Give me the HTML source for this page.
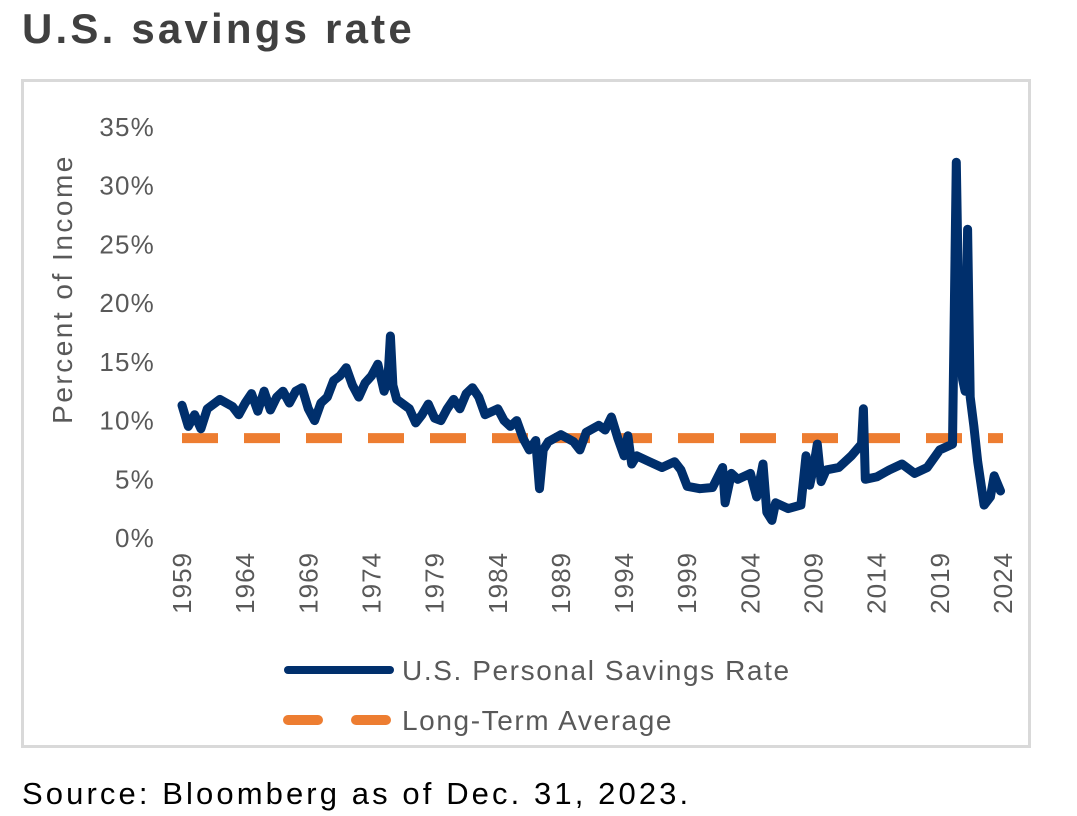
<!DOCTYPE html>
<html><head><meta charset="utf-8"><style>
body{margin:0;background:#fff;width:1077px;height:816px;overflow:hidden;font-family:"Liberation Sans",sans-serif;}
#title{position:absolute;left:22px;top:5px;font-size:42px;font-weight:bold;color:#404040;letter-spacing:3.2px;margin:0}
#box{position:absolute;left:21px;top:79px;width:1004px;height:663px;border:3px solid #d9d9d9;}
#src{position:absolute;left:22px;top:776px;font-size:31px;letter-spacing:3.1px;color:#000;}
svg text{font-family:"Liberation Sans",sans-serif;fill:#595959}
</style></head><body>
<h1 id="title">U.S. savings rate</h1>
<div id="box"></div>
<svg id="chart" width="1077" height="816" style="position:absolute;left:0;top:0"></svg>
<div id="src">Source: Bloomberg as of Dec. 31, 2023.</div>
<script>
const years=[1959,1959.5,1960,1960.5,1961,1962,1963,1963.5,1964,1964.5,1965,1965.5,1966,1966.5,1967,1967.5,1968,1968.5,1969,1969.5,1970,1970.5,1971,1971.5,1972,1972.5,1973,1973.5,1974,1974.5,1975,1975.3,1975.5,1975.7,1976,1977,1977.5,1978,1978.5,1979,1979.5,1980,1980.5,1981,1981.5,1982,1982.5,1983,1984,1984.5,1985,1985.5,1986,1986.5,1987,1987.3,1987.6,1988,1989,1990,1990.5,1991,1992,1992.5,1993,1993.5,1994,1994.3,1994.6,1995,1996,1997,1998,1998.5,1999,2000,2001,2001.8,2002,2002.5,2003,2004,2004.5,2005,2005.3,2005.7,2006,2007,2008,2008.4,2008.7,2009,2009.3,2009.6,2010,2011,2012,2012.8,2012.95,2013.1,2014,2015,2016,2017,2018,2019,2020,2020.3,2020.5,2020.8,2021,2021.2,2021.4,2021.7,2022,2022.5,2023,2023.3,2023.8];
const rates=[11.3,9.5,10.5,9.3,11.0,11.8,11.2,10.5,11.5,12.3,10.8,12.5,10.9,12.0,12.5,11.5,12.5,12.8,11.0,10.0,11.5,12.0,13.4,13.8,14.5,13.0,12.0,13.2,13.8,14.8,12.5,13.5,17.2,13.0,11.8,11.0,9.8,10.5,11.4,10.2,10.0,11.0,11.8,11.0,12.3,12.8,12.0,10.5,11.0,10.0,9.5,10.0,8.5,7.5,8.3,4.2,7.5,8.2,8.8,8.2,7.5,9.0,9.6,9.2,10.3,8.5,7.0,8.7,6.3,7.0,6.5,6.0,6.5,5.8,4.4,4.2,4.3,6.0,3.0,5.5,5.0,5.5,3.5,6.3,2.2,1.5,3.0,2.5,2.8,7.0,4.5,6.0,8.0,4.8,5.8,6.0,7.0,8.0,11.0,5.0,5.2,5.8,6.3,5.5,6.0,7.5,8.0,32.0,19.0,13.5,12.5,26.3,12.0,9.5,6.5,2.8,3.5,5.3,4.0];
const average=[8.5];
const yTicks=[0,5,10,15,20,25,30,35];
const xTicks=[1959,1964,1969,1974,1979,1984,1989,1994,1999,2004,2009,2014,2019,2024];
const NS="http://www.w3.org/2000/svg",svg=document.getElementById('chart');
const x=v=>182+(v-1959)*(1003-182)/65, y=v=>538-v*(538-127)/35;
function mk(t,a,p){const e=document.createElementNS(NS,t);for(const k in a)e.setAttribute(k,a[k]);(p||svg).appendChild(e);return e;}
yTicks.forEach(v=>{const t=mk('text',{x:155,y:y(v)+9,'text-anchor':'end','font-size':26,'letter-spacing':1.2});t.textContent=v+'%';

});
xTicks.forEach(v=>{const t=mk('text',{transform:`translate(${x(v)+9},552) rotate(-90)`,'text-anchor':'end','font-size':26,'letter-spacing':1});t.textContent=v;

});
const yt=mk('text',{transform:'translate(72,289) rotate(-90)','text-anchor':'middle','font-size':28,'letter-spacing':2.5});yt.textContent='Percent of Income';


const avg=mk('line',{x1:x(1959),x2:x(2024),y1:y(average[0]),y2:y(average[0]),stroke:'#ED7D31','stroke-width':10,'stroke-dasharray':'36 26','stroke-linecap':'butt'});


const d=years.map((yr,i)=>(i?'L':'M')+x(yr).toFixed(1)+','+y(rates[i]).toFixed(1)).join('');
const ln=mk('path',{d:d,fill:'none',stroke:'#002F6C','stroke-width':9,'stroke-linejoin':'round','stroke-linecap':'round'});


[['U.S. Personal Savings Rate','#002F6C',null,670,'legend-savings-rate'],['Long-Term Average','#ED7D31','36 26',720,'legend-average']].forEach(([lab,c,da,yy,n])=>{
const g=mk('g',{});


const l=mk('line',{x1:288,x2:390,y1:yy,y2:yy,stroke:c,'stroke-width':da?10:8,'stroke-linecap':'round'},g);if(da)l.setAttribute('stroke-dasharray','30 38');
const t=mk('text',{x:402,y:yy+10,'font-size':28,'letter-spacing':1.6},g);t.textContent=lab;});
</script>
</body></html>
